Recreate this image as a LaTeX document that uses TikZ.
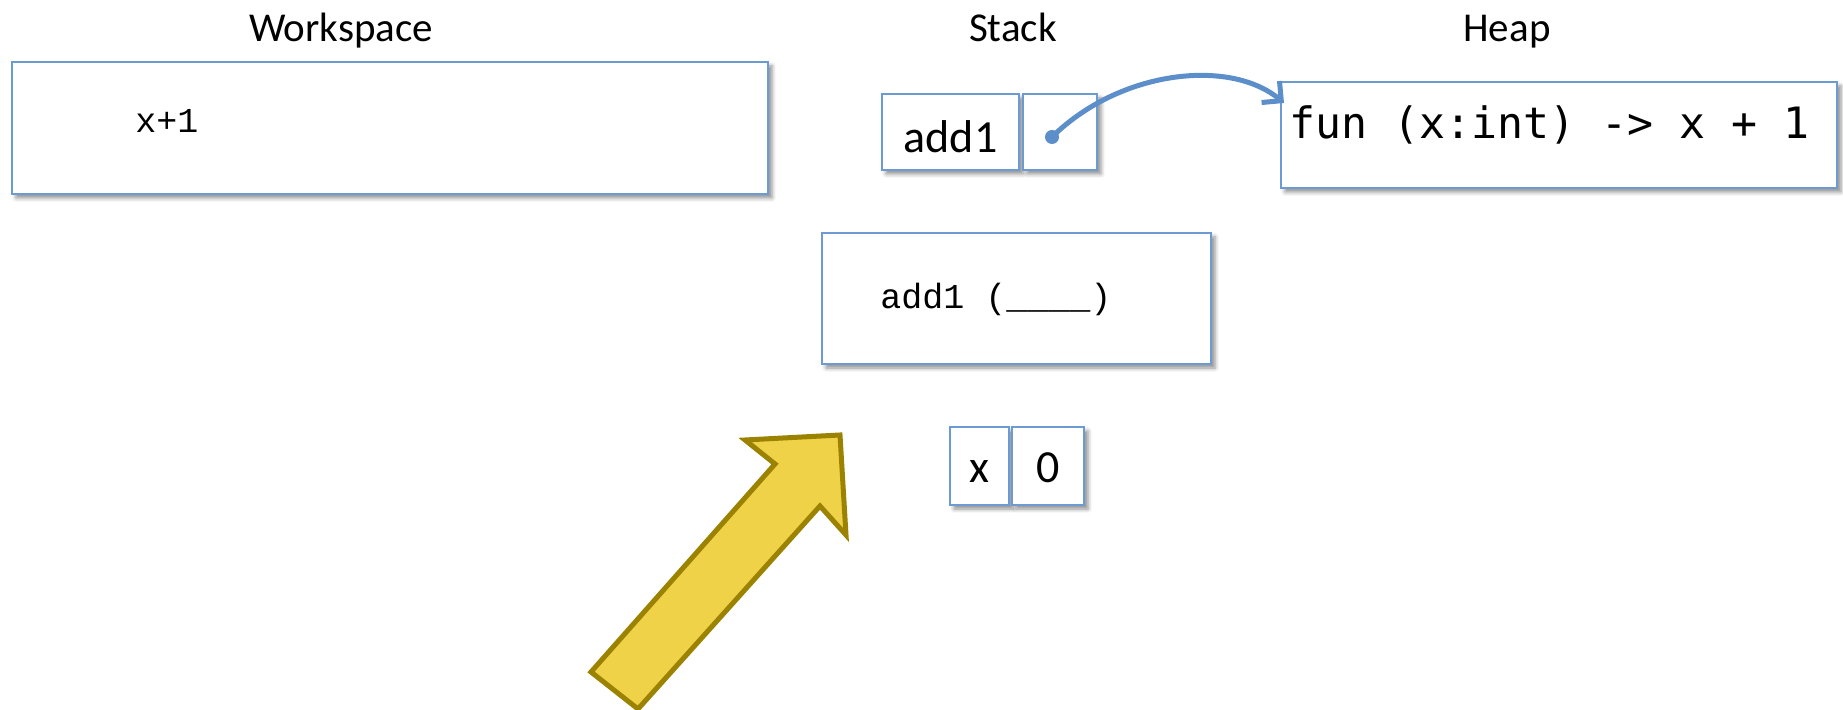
\documentclass[tikz,border=0pt]{standalone}
\usepackage{fontspec}
\setmainfont{Carlito}
\newfontfamily\codefont{Liberation Mono}
\newfontfamily\heapfont{DejaVu Sans Mono}
\usetikzlibrary{shadows.blur,arrows.meta}

\definecolor{boxblue}{RGB}{108,155,212}
\definecolor{ptrblue}{RGB}{92,142,202}
\definecolor{arrowfill}{RGB}{240,210,72}
\definecolor{arrowline}{RGB}{155,130,0}

\begin{document}
\begin{tikzpicture}[x=0.5pt,y=-0.5pt,
  memcell/.style={draw=boxblue, line width=1pt, fill=white, inner sep=0pt,
    blur shadow={shadow xshift=2pt, shadow yshift=-2pt, shadow blur radius=2pt, shadow opacity=45}},
  title/.style={font=\fontsize{20.5}{24}\selectfont, anchor=base},
  celltext/.style={font=\fontsize{23}{27}\selectfont, anchor=base, inner sep=0pt},
  codetext/.style={font=\codefont\fontsize{17.5}{21}\selectfont, anchor=base west, inner sep=0pt},
  heaptext/.style={font=\heapfont\fontsize{21.6}{26}\selectfont, anchor=base west, inner sep=0pt},
  pointer/.style={draw=ptrblue, line width=2.5pt, -{Straight Barb[length=7pt,width=14pt,line width=2.5pt]}},
  bigarrow/.style={fill=arrowfill, draw=arrowline, line width=2.5pt, line join=miter}
]
\useasboundingbox (0,0) rectangle (1843,710);

% column headings
\node[title] (wstitle) at (341,42) {Workspace};
\node[title] (sttitle) at (1013,42) {Stack};
\node[title] (hptitle) at (1507,42) {Heap};

% workspace
\node[memcell, minimum width=378pt, minimum height=66pt] (ws) at (390,128) {};
\node[codetext] (wsexpr) at (135,133) {x+1};

% stack binding add1 -> heap
\node[memcell, minimum width=68.5pt, minimum height=38pt] (add1) at (950.5,132) {};
\node[celltext] (add1name) at (950.5,153) {add1};
\node[memcell, minimum width=37pt, minimum height=38pt] (ptr) at (1060,132) {};

% heap value
\node[memcell, minimum width=278pt, minimum height=53pt] (heap) at (1559,135) {};
\node[heaptext] (fun) at (1289,139) {fun (x:int) -> x + 1};

% pending call frame
\node[memcell, minimum width=194.5pt, minimum height=65.5pt] (call) at (1016.5,298.5) {};
\node[codetext] (calltext) at (880,309) {add1 (\_\_\_\_)};

% stack binding x = 0
\node[memcell, minimum width=29.5pt, minimum height=39pt] (xname) at (979.5,466) {};
\node[memcell, minimum width=36pt, minimum height=39pt] (xval) at (1048,466) {};
\node[celltext] (xlabel) at (979.5,483) {x};
\node[celltext] (xnum) at (1048,483) {0};

% pointer from the stack slot into the heap
\node[circle, fill=ptrblue, inner sep=0pt, minimum size=7pt] (dot) at (1052,137) {};
\coordinate (heapin) at (1284,103);
\draw[pointer] (dot.center) .. controls (1120,70) and (1230,58) .. (heapin);

% big yellow arrow
\draw[bigarrow] (591,672) -- (775,464) -- (745,440) -- (840,435) -- (846,535) -- (820,506) -- (638,709) -- cycle;
\end{tikzpicture}
\end{document}
